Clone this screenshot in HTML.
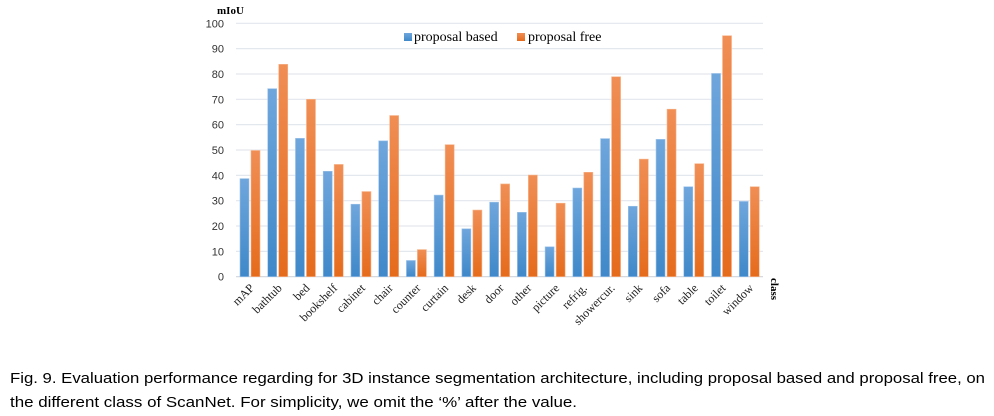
<!DOCTYPE html>
<html><head><meta charset="utf-8"><style>
body{margin:0;background:#fff;width:994px;height:416px;overflow:hidden}
svg{display:block}
</style></head><body>
<svg id="chart" width="994" height="416" xmlns="http://www.w3.org/2000/svg">
<defs>
<linearGradient id="gb" x1="0" y1="0" x2="0" y2="1"><stop offset="0" stop-color="#6fa6dc"/><stop offset="1" stop-color="#3f88c9"/></linearGradient>
<linearGradient id="go" x1="0" y1="0" x2="0" y2="1"><stop offset="0" stop-color="#f08e55"/><stop offset="1" stop-color="#e56b1c"/></linearGradient>
</defs>
<g id="grid"></g>
<g id="yt"></g>
<g id="bars"></g>
<g id="xl"></g>
<text x="217" y="14" font-family="Liberation Serif, serif" font-weight="bold" font-size="11">mIoU</text>
<text transform="translate(771,278) rotate(90)" font-family="Liberation Serif, serif" font-weight="bold" font-size="11">class</text>
<g>
<rect x="404" y="33" width="8" height="8" fill="url(#gb)"/>
<text x="414" y="41" font-family="Liberation Serif, serif" font-size="14">proposal based</text>
<rect x="517" y="33" width="8" height="8" fill="url(#go)"/>
<text x="528" y="41" font-family="Liberation Serif, serif" font-size="14">proposal free</text>
</g>
<text x="10" y="383" font-family="Liberation Sans, sans-serif" font-size="15" textLength="975" lengthAdjust="spacingAndGlyphs">Fig. 9.  Evaluation performance regarding for 3D instance segmentation architecture, including proposal based and proposal free, on</text>
<text x="10" y="407" font-family="Liberation Sans, sans-serif" font-size="15" textLength="567" lengthAdjust="spacingAndGlyphs">the different class of ScanNet. For simplicity, we omit the ‘%’ after the value.</text>
</svg>
<script>
const categories=["mAP","bathtub","bed","bookshelf","cabinet","chair","counter","curtain","desk","door","other","picture","refrig.","showercur.","sink","sofa","table","toilet","window"];
const proposalBased=[38.7,74.2,54.6,41.6,28.6,53.6,6.4,32.2,18.9,29.4,25.4,11.8,35.0,54.5,27.8,54.2,35.5,80.2,29.7];
const proposalFree=[49.8,83.8,70.0,44.3,33.6,63.6,10.7,52.1,26.3,36.6,40.1,29.0,41.2,78.9,46.4,66.1,44.6,95.1,35.5];
const yTicks=[0,10,20,30,40,50,60,70,80,90,100];
const NS="http://www.w3.org/2000/svg";
const L=236,R=763,T=23.3,B=276.7,step=(R-L)/categories.length;
function y(v){return B-(v/100)*(B-T);}
function x(i){return L+i*step;}
function mk(tag,attrs,parent,txt){const e=document.createElementNS(NS,tag);for(const k in attrs)e.setAttribute(k,attrs[k]);if(txt!=null)e.textContent=txt;parent.appendChild(e);return e;}
const grid=document.getElementById('grid'),yt=document.getElementById('yt'),bars=document.getElementById('bars'),xl=document.getElementById('xl');
yTicks.forEach(t=>{
const g=mk('line',{x1:L,x2:R,y1:y(t),y2:y(t),stroke:t===0?'#d0d4da':'#e3e7ee','stroke-width':1.2},grid);


const tx=mk('text',{x:224,y:y(t)+4,'text-anchor':'end','font-family':'Liberation Sans, sans-serif','font-size':11,fill:'#333'},yt,t);


});
categories.forEach((c,i)=>{
const bx=x(i)+4;
const b=mk('rect',{x:bx,y:y(proposalBased[i]),width:9,height:B-y(proposalBased[i]),fill:'url(#gb)',stroke:'#9cc3ea','stroke-width':0.6},bars);


const o=mk('rect',{x:bx+11,y:y(proposalFree[i]),width:9,height:B-y(proposalFree[i]),fill:'url(#go)',stroke:'#f6b48a','stroke-width':0.6},bars);


const cx=x(i)+step/2+5;
const t=mk('text',{transform:`translate(${cx},${B+12}) rotate(-45)`,'text-anchor':'end','font-family':'Liberation Serif, serif','font-size':12,fill:'#222'},xl,c);


});
</script>
</body></html>
